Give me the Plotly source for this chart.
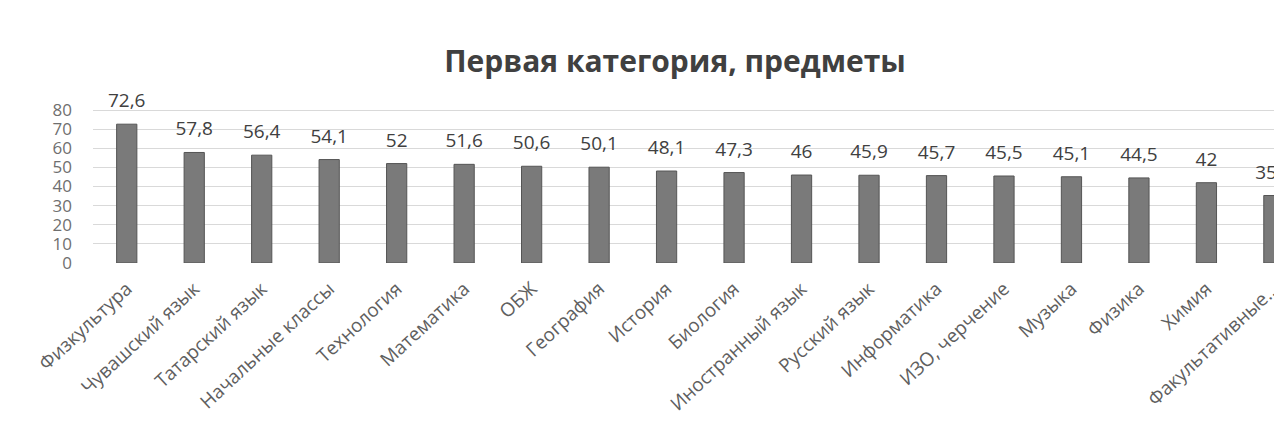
import plotly.graph_objects as go

categories = ["Физкультура", "Чувашский язык", "Татарский язык", "Начальные классы",
              "Технология", "Математика", "ОБЖ", "География", "История", "Биология",
              "Иностранный язык", "Русский язык", "Информатика", "ИЗО, черчение",
              "Музыка", "Физика", "Химия", "Факультативные..."]
values = [72.6, 57.8, 56.4, 54.1, 52, 51.6, 50.6, 50.1, 48.1, 47.3,
          46, 45.9, 45.7, 45.5, 45.1, 44.5, 42, 35.3]
value_labels = ["72,6", "57,8", "56,4", "54,1", "52", "51,6", "50,6", "50,1", "48,1", "47,3",
                "46", "45,9", "45,7", "45,5", "45,1", "44,5", "42", "35,3"]
y_ticks = [0, 10, 20, 30, 40, 50, 60, 70, 80]

FONT = "Open Sans"

fig = go.Figure()
fig.add_trace(go.Bar(
    x=categories, y=values, width=0.3,
    marker=dict(color="#7a7a7a", line=dict(color="#555555", width=1)),
    hoverinfo="skip", showlegend=False,
))
fig.add_trace(go.Scatter(
    x=categories, y=values, mode="markers+text", text=value_labels,
    textposition="top center",
    marker=dict(size=18, opacity=0),
    textfont=dict(family=FONT, size=19, color="#404040"),
    cliponaxis=False, hoverinfo="skip", showlegend=False,
))

fig.update_layout(
    width=1274, height=434,
    margin=dict(l=85, r=0, t=81, b=179),
    paper_bgcolor="white", plot_bgcolor="white",
    title=dict(text="<b>Первая категория, предметы</b>", x=0.5236, xanchor="center",
               y=0.8756, yanchor="middle",
               font=dict(family=FONT, size=30, color="#404040")),
    xaxis=dict(range=[-0.5, 17.12], tickangle=-43, showgrid=False, showline=False,
               ticks="", automargin=False, ticklabelstandoff=10,
               tickfont=dict(family=FONT, size=19, color="#5f5f5f")),
    yaxis=dict(range=[0, 91], tickvals=y_ticks, ticktext=[str(v) for v in y_ticks],
               showgrid=True, gridcolor="#d9d9d9", gridwidth=1, zeroline=False,
               showline=False, ticks="", ticklabelstandoff=20, automargin=False,
               tickfont=dict(family=FONT, size=17, color="#6f6f6f")),
    bargap=0.7,
)

fig.write_html("out.html")
